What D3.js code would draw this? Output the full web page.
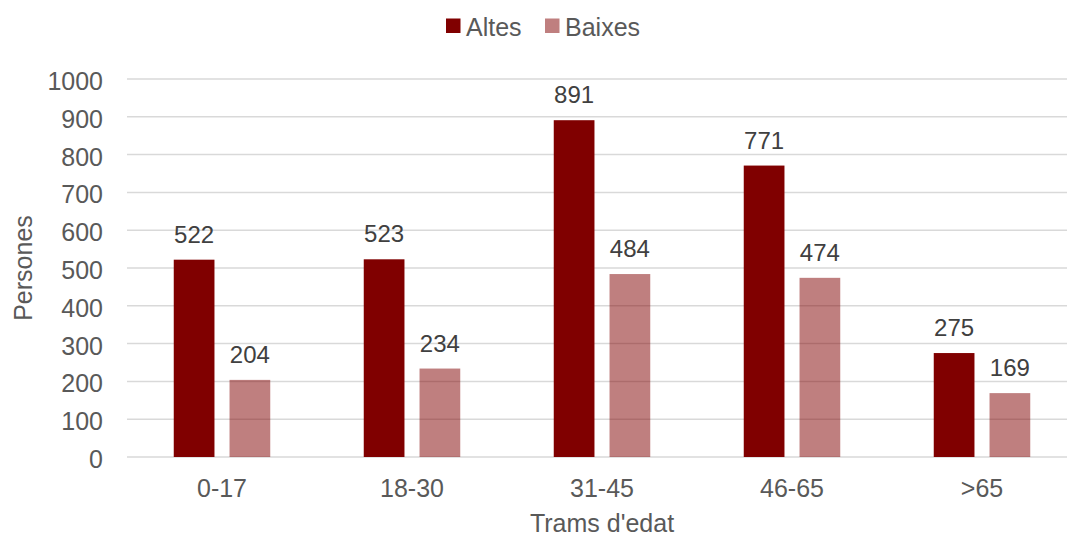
<!DOCTYPE html>
<html>
<head>
<meta charset="utf-8">
<script src="https://cdn.jsdelivr.net/npm/d3@7"></script>
<style>
  html, body { margin: 0; padding: 0; background: #fff; }
  svg { display: block; font-family: "Liberation Sans", Arial, sans-serif; }
</style>
</head>
<body>
<svg id="chart" width="1067" height="538"></svg>
<script>
// Age brackets and the number of registrations (Altes) and deregistrations (Baixes)
const categories = ["0-17", "18-30", "31-45", "46-65", ">65"];
const seriesNames = ["Altes", "Baixes"];
const altes = [522, 523, 891, 771, 275];
const baixes = [204, 234, 484, 474, 169];
const yTicks = [0, 100, 200, 300, 400, 500, 600, 700, 800, 900, 1000];

const colors = { Altes: "#800000", Baixes: "#800000" };
const opacity = { Altes: 1, Baixes: 0.5 };

(function draw() {
  const svg = d3.select("#chart");
  const plotLeft = 127, plotRight = 1077, plotTop = 79, plotBottom = 457;
  const fontFamily = "Liberation Sans, Arial, sans-serif";

  const x = d3.scaleBand().domain(categories).range([plotLeft, plotRight]);
  const y = d3.scaleLinear().domain([0, 1000]).range([plotBottom, plotTop]);

  // inner band for the two series within each category
  const groupW = 96.5;
  const x1 = d3.scaleBand().domain(seriesNames)
    .range([(x.bandwidth() - groupW) / 2, (x.bandwidth() + groupW) / 2])
    .paddingInner(0.27);

  // gridlines
  svg.append("g")
    .selectAll("line")
    .data(yTicks)
    .join("line")
    .attr("x1", plotLeft).attr("x2", plotRight)
    .attr("y1", d => y(d)).attr("y2", d => y(d))
    .attr("stroke", "#d9d9d9")
    .attr("stroke-width", 1.5);

  // y tick labels
  const yAxis = svg.append("g")
    .attr("transform", `translate(${plotLeft - 24},0)`)
    .call(d3.axisLeft(y).tickValues(yTicks).tickFormat(d3.format("d")).tickSize(0).tickPadding(0));
  yAxis.select(".domain").remove();
  yAxis.selectAll("text")
    .attr("font-size", 25)
    .attr("fill", "#595959")
    .attr("dy", "0.42em")
    .attr("font-family", fontFamily);

  // x tick labels
  const xAxis = svg.append("g")
    .attr("transform", `translate(0,${plotBottom + 40})`)
    .call(d3.axisBottom(x).tickSize(0).tickPadding(0));
  xAxis.select(".domain").remove();
  xAxis.selectAll("text")
    .attr("font-size", 25)
    .attr("fill", "#595959")
    .attr("dy", "0")
    .attr("font-family", fontFamily);

  // bars
  const rows = categories.map((c, i) => ({ cat: c, Altes: altes[i], Baixes: baixes[i] }));
  const groups = svg.append("g")
    .selectAll("g")
    .data(rows)
    .join("g")
    .attr("transform", d => `translate(${x(d.cat)},0)`);

  groups.selectAll("rect")
    .data(d => seriesNames.map(s => ({ s, v: d[s] })))
    .join("rect")
    .attr("x", d => x1(d.s))
    .attr("width", x1.bandwidth())
    .attr("y", d => y(d.v))
    .attr("height", d => y(0) - y(d.v))
    .attr("fill", d => colors[d.s])
    .attr("fill-opacity", d => opacity[d.s]);

  groups.selectAll("text.val")
    .data(d => seriesNames.map(s => ({ s, v: d[s] })))
    .join("text")
    .attr("class", "val")
    .attr("x", d => x1(d.s) + x1.bandwidth() / 2)
    .attr("y", d => y(d.v) - 17)
    .attr("text-anchor", "middle")
    .attr("font-size", 24)
    .attr("fill", "#404040")
    .text(d => d.v);

  // axis titles
  svg.append("text")
    .attr("x", 602).attr("y", 532)
    .attr("text-anchor", "middle")
    .attr("font-size", 25)
    .attr("fill", "#595959")
    .text("Trams d'edat");

  svg.append("text")
    .attr("transform", `translate(32,${(plotTop + plotBottom) / 2}) rotate(-90)`)
    .attr("text-anchor", "middle")
    .attr("font-size", 25)
    .attr("fill", "#595959")
    .text("Persones");

  // legend
  const legend = svg.append("g");
  const legendItems = [{ s: "Altes", x: 446 }, { s: "Baixes", x: 545 }];
  legendItems.forEach(it => {
    legend.append("rect")
      .attr("x", it.x).attr("y", 18.5)
      .attr("width", 14.5).attr("height", 14.5)
      .attr("fill", colors[it.s])
      .attr("fill-opacity", opacity[it.s]);
    legend.append("text")
      .attr("x", it.x + 20).attr("y", 36)
      .attr("font-size", 25)
      .attr("fill", "#595959")
      .text(it.s);
  });
})();
</script>
</body>
</html>
